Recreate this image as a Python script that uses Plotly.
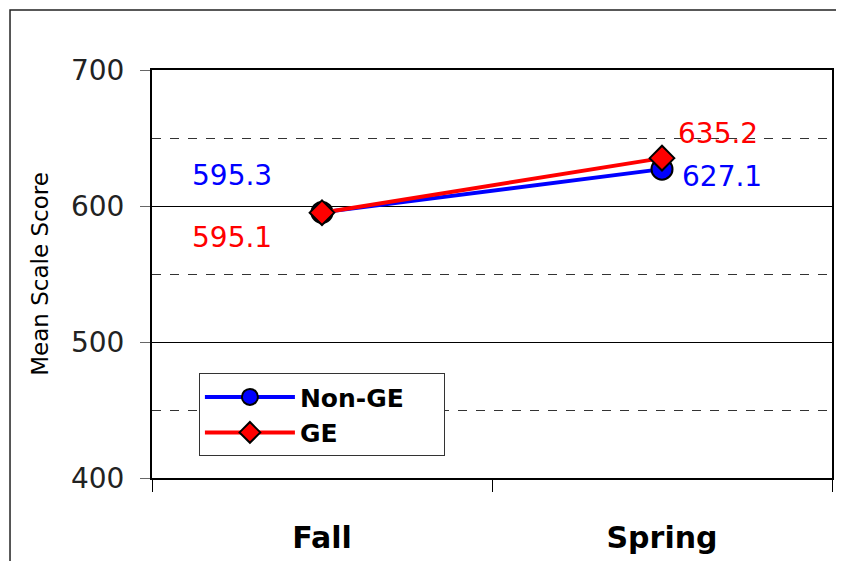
import plotly.graph_objects as go

categories = ["Fall", "Spring"]
non_ge = [595.3, 627.1]
ge = [595.1, 635.2]
series_names = ["Non-GE", "GE"]
y_ticks = [400, 500, 600, 700]

FONT = "DejaVu Sans"
PAD = "\u00a0" * 4  # widens the legend box toward the reference size

fig = go.Figure()
fig.add_trace(go.Scatter(
    x=categories, y=non_ge, name=series_names[0] + PAD, mode="lines+markers",
    line=dict(color="#0000FF", width=4),
    marker=dict(symbol="circle", size=21, color="#0000FF", line=dict(color="black", width=2)),
))
fig.add_trace(go.Scatter(
    x=categories, y=ge, name=series_names[1], mode="lines+markers",
    line=dict(color="#FF0000", width=4),
    marker=dict(symbol="diamond", size=19, color="#FF0000", line=dict(color="black", width=2)),
))

label_specs = [
    (categories[0], non_ge[0], "#0000FF", -90, 37),
    (categories[0], ge[0], "#FF0000", -90, -25),
    (categories[1], ge[1], "#FF0000", 56, 25),
    (categories[1], non_ge[1], "#0000FF", 60, -7),
]
for cx, cy, col, xs, ys in label_specs:
    fig.add_annotation(x=cx, y=cy, text=f"{cy:.1f}", showarrow=False,
                       xshift=xs, yshift=ys,
                       font=dict(family=FONT, size=28, color=col))

# page body has an 8px margin; compensate so the plot area lands at x 152-832, y 70-478
fig.update_layout(
    width=836, height=553,
    margin=dict(l=144, r=12, t=62, b=83, autoexpand=False),
    paper_bgcolor="white", plot_bgcolor="white",
    font=dict(family=FONT, color="black"),
    showlegend=True,
    legend=dict(x=0.069, y=0.257, xanchor="left", yanchor="top",
                bgcolor="white", bordercolor="#333", borderwidth=1,
                font=dict(family=FONT, size=25, color="black", weight="bold"),
                itemwidth=90, tracegroupgap=0),
    xaxis=dict(
        type="category", range=[-0.5, 1.5], automargin=False,
        tickson="boundaries", ticks="outside", ticklen=12, tickcolor="black", tickwidth=1,
        showgrid=False, showline=True, linecolor="black", linewidth=2, mirror=True,
        tickfont=dict(family=FONT, size=30, color="black", weight="bold"),
        ticklabelstandoff=32,
        zeroline=False,
    ),
    yaxis=dict(
        range=[400, 700], tickvals=y_ticks, ticks="outside", ticklen=10, automargin=False,
        tickcolor="#666", tickwidth=1,
        showgrid=True, gridcolor="black", gridwidth=1,
        minor=dict(dtick=50, showgrid=True, gridcolor="#333", griddash="dash", gridwidth=1),
        showline=True, linecolor="black", linewidth=2, mirror=True,
        tickfont=dict(family=FONT, size=28, color="#222"),
        ticklabelstandoff=10,
        title=dict(text="Mean Scale Score", font=dict(family=FONT, size=23, color="black"), standoff=16),
        zeroline=False,
    ),
    shapes=[dict(type="rect", xref="paper", yref="paper",
                 x0=-0.2088, x1=1.1, y0=-0.4, y1=1.147,
                 line=dict(color="#222", width=1.5), fillcolor="rgba(0,0,0,0)", layer="below")],
)

fig.write_html("out.html")
